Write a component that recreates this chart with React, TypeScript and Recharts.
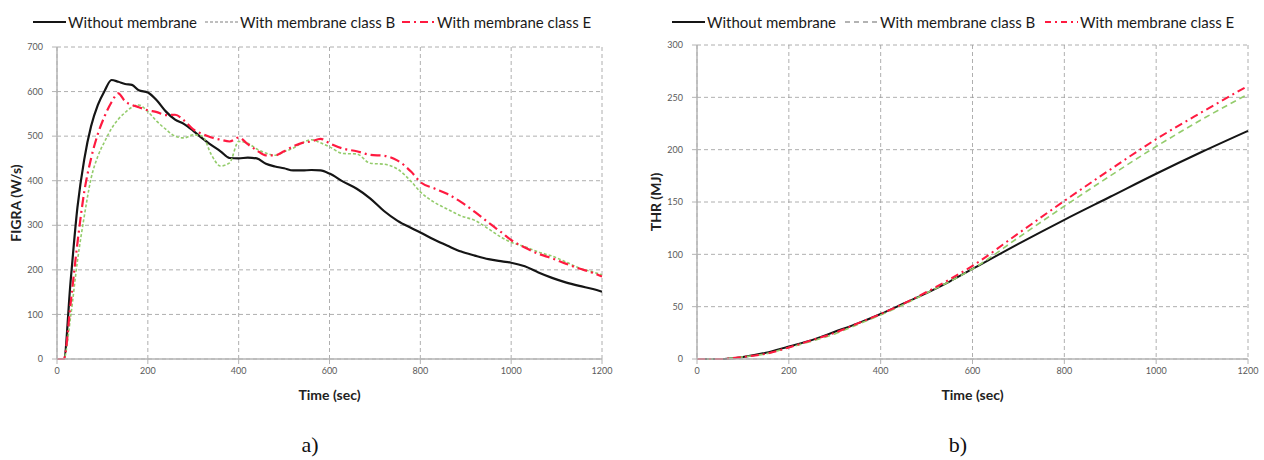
import { LineChart, Line, XAxis, YAxis, CartesianGrid } from 'recharts';

// ── Fonts / colours ──────────────────────────────────────────────────────────
const FONT = 'Lato, "Open Sans", sans-serif';
const SERIF = '"Liberation Serif", "DejaVu Serif", serif';
const BLACK = '#151515';
const GREEN = '#94cc6c';
const RED = '#ff1a40';
const GRID = '#9a9a9a';
const AXIS = '#b4b4b4';

// ── Data ─────────────────────────────────────────────────────────────────────
const seriesNames = ['Without membrane', 'With membrane class B', 'With membrane class E'];

const timeTicks = [0, 200, 400, 600, 800, 1000, 1200];
const figraTicks = [0, 100, 200, 300, 400, 500, 600, 700];
const thrTicks = [0, 50, 100, 150, 200, 250, 300];

// a) FIGRA (W/s)
const figraTime = [
  0, 15, 30, 45, 60, 75, 90, 105, 120, 135, 150, 165, 180, 200, 220, 240, 260, 280, 300, 320,
  340, 360, 380, 400, 420, 440, 460, 480, 500, 520, 540, 560, 580, 600, 630, 660, 690, 720, 750, 780,
  800, 830, 860, 890, 920, 950, 980, 1000, 1030, 1060, 1090, 1120, 1150, 1180, 1200,
];
const figraWithout = [
  0, 0, 175, 340, 448, 522, 570, 602, 626, 622, 617, 615, 603, 598, 580, 555, 537, 527, 512, 495,
  480, 466, 451, 450, 452, 450, 438, 432, 428, 423, 423, 424, 423, 416, 398, 382, 360, 332, 310, 294,
  284, 268, 254, 241, 232, 224, 219, 216, 208, 194, 182, 172, 164, 157, 151,
];
const figraClassB = [
  0, 0, 95, 220, 320, 405, 455, 488, 517, 538, 553, 565, 570, 555, 533, 515, 500, 496, 503, 500,
  458, 433, 440, 488, 484, 471, 462, 457, 465, 473, 485, 492, 485, 476, 461, 460, 439, 437, 426, 398,
  375, 352, 336, 321, 311, 292, 272, 262, 252, 240, 231, 218, 204, 195, 189,
];
const figraClassE = [
  0, 0, 125, 260, 375, 450, 505, 545, 576, 596, 578, 570, 565, 558, 554, 547, 548, 535, 515, 505,
  497, 492, 488, 497, 482, 468, 457, 457, 466, 477, 485, 488, 494, 484, 472, 466, 458, 456, 445, 420,
  397, 383, 370, 352, 330, 306, 283, 267, 250, 236, 226, 214, 203, 193, 185,
];

// b) THR (MJ)
const thrTime = [0, 50, 100, 150, 200, 250, 300, 350, 400, 450, 500, 550, 600, 700, 800, 900, 1000, 1100, 1200];
const thrWithout = [0, 0, 2, 6, 12, 18, 26, 34, 43, 53, 63, 74, 86, 110, 133, 155, 177, 198, 218];
const thrClassB = [0, 0, 2, 5, 11, 17, 24, 33, 42, 52, 63, 74, 86, 116, 146, 175, 203, 229, 253];
const thrClassE = [0, 0, 2, 5, 11, 18, 25, 34, 43, 53, 64, 76, 89, 120, 151, 181, 210, 236, 261];

const figraRows = figraTime.map((t, i) => ({ t, a: figraWithout[i], b: figraClassB[i], e: figraClassE[i] }));
const thrRows = thrTime.map((t, i) => ({ t, a: thrWithout[i], b: thrClassB[i], e: thrClassE[i] }));

type Dash = { color: string; dash?: string; width: number };

const tickStyle = { fontSize: 9, fill: '#5a5a5a', fontFamily: FONT };
const labelStyle = { fontSize: 14, fontWeight: 700, fill: '#222', fontFamily: FONT };

function LegendRow({ left, items }: { left: number[]; items: Dash[] }) {
  return (
    <>
      {items.map((it, i) => (
        <div
          key={i}
          style={{
            position: 'absolute', left: left[i], top: 12, height: 20,
            display: 'flex', alignItems: 'center', fontFamily: FONT, fontSize: 15, color: '#1a1a1a',
            whiteSpace: 'nowrap',
          }}
        >
          <svg width={33} height={10} style={{ marginRight: 2 }}>
            <line x1={0} x2={33} y1={5} y2={5} stroke={it.color} strokeWidth={it.width} strokeDasharray={it.dash} />
          </svg>
          {seriesNames[i]}
        </div>
      ))}
    </>
  );
}

interface PanelProps {
  left: number;
  width: number;
  top: number;
  rightMargin: number;
  rows: { t: number; a: number; b: number; e: number }[];
  yMax: number;
  yTicks: number[];
  yLabel: string;
  styles: Dash[];
}

function Panel({ left, width, top, rightMargin, rows, yMax, yTicks, yLabel, styles }: PanelProps) {
  return (
    <div style={{ position: 'absolute', left, top: 0 }}>
      <LineChart width={width} height={410} data={rows} margin={{ top, right: rightMargin, bottom: 6, left: 0 }}>
        <CartesianGrid stroke={GRID} strokeDasharray="4 3" strokeWidth={0.8} />
        <XAxis
          dataKey="t"
          type="number"
          domain={[0, 1200]}
          ticks={timeTicks}
          height={45}
          tick={tickStyle}
          tickSize={5}
          tickMargin={4}
          axisLine={{ stroke: AXIS, strokeWidth: 1.5 }}
          tickLine={{ stroke: AXIS }}
          label={{ value: 'Time (sec)', position: 'insideBottom', offset: 4, style: labelStyle }}
        />
        <YAxis
          type="number"
          domain={[0, yMax]}
          ticks={yTicks}
          width={57}
          tick={tickStyle}
          tickSize={5}
          tickMargin={9}
          axisLine={{ stroke: AXIS, strokeWidth: 1.5 }}
          tickLine={{ stroke: AXIS }}
          label={{
            value: yLabel, angle: -90, position: 'insideLeft', offset: 16,
            style: { ...labelStyle, textAnchor: 'middle' },
          }}
        />
        {(['a', 'b', 'e'] as const).map((k, i) => (
          <Line
            key={k}
            dataKey={k}
            type="monotone"
            dot={false}
            stroke={styles[i].color}
            strokeWidth={styles[i].width}
            strokeDasharray={styles[i].dash}
            isAnimationActive={false}
          />
        ))}
      </LineChart>
    </div>
  );
}

const figraStyles: Dash[] = [
  { color: BLACK, width: 2.2 },
  { color: GREEN, width: 1.6, dash: '3 2' },
  { color: RED, width: 2.2, dash: '10 4 2 4' },
];
const thrStyles: Dash[] = [
  { color: BLACK, width: 2 },
  { color: GREEN, width: 1.6, dash: '6 4' },
  { color: RED, width: 2, dash: '8 4 2 4' },
];
const figraLegend: Dash[] = [
  { color: BLACK, width: 2 },
  { color: '#aaaaaa', width: 1.5, dash: '3 2' },
  { color: RED, width: 2, dash: '8 4 2 4' },
];
const thrLegend: Dash[] = [
  { color: BLACK, width: 2 },
  { color: '#9a9a9a', width: 1.5, dash: '5 4' },
  { color: RED, width: 2, dash: '6 4 2 4' },
];

export default function App() {
  return (
    <div style={{ position: 'absolute', left: 0, top: 0, width: 1264, height: 460, background: '#fff' }}>
      <Panel left={0} width={620} top={47} rightMargin={18} rows={figraRows} yMax={700} yTicks={figraTicks} yLabel="FIGRA (W/s)" styles={figraStyles} />
      <Panel left={640} width={624} top={45} rightMargin={16} rows={thrRows} yMax={300} yTicks={thrTicks} yLabel="THR (MJ)" styles={thrStyles} />
      <LegendRow left={[33, 205, 402]} items={figraLegend} />
      <LegendRow left={[672, 845, 1045]} items={thrLegend} />
      <svg width={1264} height={460} style={{ position: 'absolute', left: 0, top: 0, pointerEvents: 'none' }}>
        <text x={310} y={452} textAnchor="middle" fontFamily={SERIF} fontSize={22} fill="#111">a)</text>
        <text x={958} y={452} textAnchor="middle" fontFamily={SERIF} fontSize={22} fill="#111">b)</text>
      </svg>
    </div>
  );
}
